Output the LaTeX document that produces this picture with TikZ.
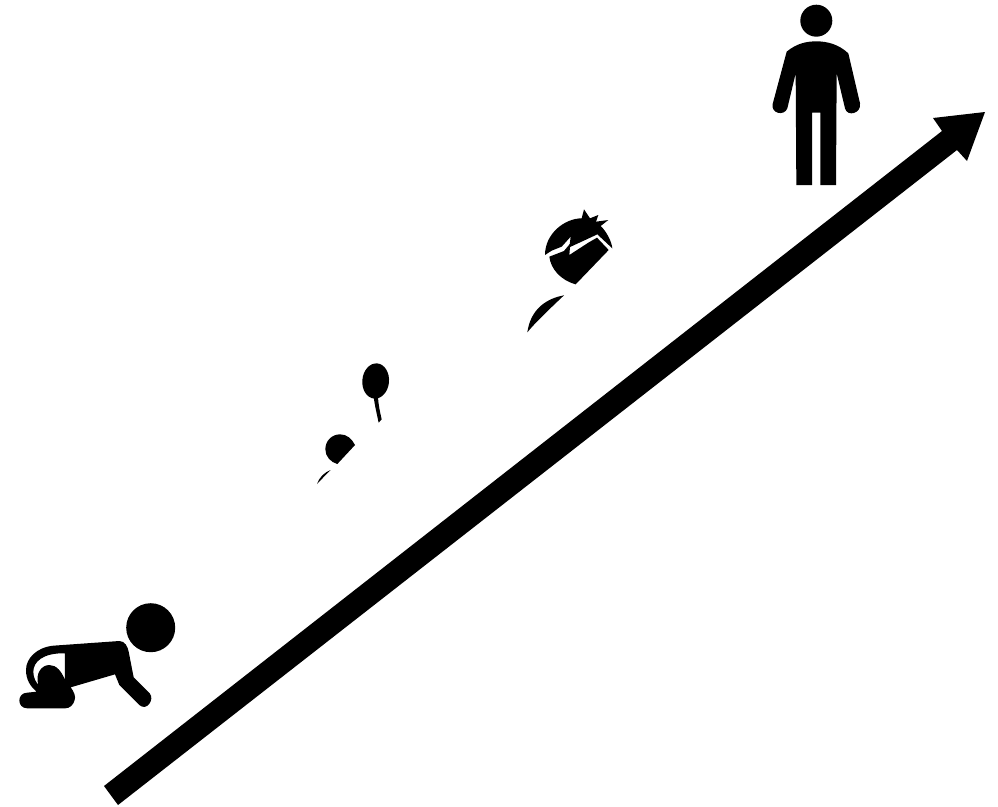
\documentclass[tikz,border=0pt]{standalone}
\usepackage{tikz}
\usetikzlibrary{shapes.geometric}
\tikzset{
	blob/.style={
		circle,
		fill=black,
		inner sep=0pt
	},
	figpart/.style={fill=black, even odd rule},
	zoomed/.style={shift={#1}, scale=1/3}
}

\begin{document}
\begin{tikzpicture}[x=1pt, y=-1pt]
		\useasboundingbox (0,0) rectangle (998,806);
		% arrow
		\fill[figpart] (104,786) -- (942,131) -- (933,118) -- (985,112) -- (967,161) -- (957,150) -- (118,805) -- cycle;
		% baby
		\node[blob, minimum size=49pt] (babyhead) at (150.7,627.7) {};
		\begin{scope}[zoomed={(0,590)}]
			\fill[figpart] (358,153) .. controls (375,153) and (383,170) .. (386,185) -- (401,262) -- (449,310)
				.. controls (465,328) and (440,365) .. (418,345) -- (358,285) -- (345,253) -- (212,292)
				.. controls (222,305) and (228,320) .. (224,330) .. controls (220,345) and (210,355) .. (195,355) -- (82,355)
				.. controls (50,355) and (50,308) .. (82,308) -- (110,305)
				.. controls (92,290) and (78,270) .. (78,240) .. controls (78,205) and (110,172) .. (160,167) -- cycle
				(195,190) .. controls (130,188) and (100,215) .. (100,245) .. controls (100,265) and (108,275) .. (115,285)
				.. controls (105,250) and (125,225) .. (148,225) .. controls (170,225) and (185,245) .. (195,270) -- cycle;
		\end{scope}
		% balloon and small fruit
		\begin{scope}[zoomed={(305,355)}]
			\node[blob, ellipse, minimum width=26.7pt, minimum height=35.3pt, rotate=-5] (balloon) at (212,78) {};
			\fill[figpart] (206,125) -- (219,125) .. controls (220,150) and (226,175) .. (230,193) -- (221,203) .. controls (216,180) and (209,150) .. (206,125) -- cycle;
			\fill[figpart] (150,270) .. controls (140,250) and (125,238) .. (105,238) .. controls (80,238) and (61,258) .. (61,283)
				.. controls (61,305) and (78,322) .. (97,327) -- cycle;
			\fill[figpart] (77,345) .. controls (58,352) and (42,368) .. (36,387) .. controls (50,372) and (64,358) .. (77,345) -- cycle;
		\end{scope}
		% strawberry
		\begin{scope}[zoomed={(510,200)}]
			\fill[figpart] (105,165) .. controls (105,100) and (165,55) .. (215,55) -- (222,28) -- (240,55) -- (265,45) -- (258,65) -- (295,60) -- (272,78)
				.. controls (290,95) and (305,125) .. (307,145) -- (262,103) -- (230,118) -- (178,142) -- (182,110) -- (155,140) -- (125,152) -- cycle;
			\fill[figpart] (118,170) -- (162,153) -- (181,130) -- (178,165) -- (235,128) -- (261,113) -- (296,150) -- (197,253)
				.. controls (150,240) and (122,205) .. (118,170) -- cycle;
			\fill[figpart] (162,286) .. controls (112,295) and (62,325) .. (52,397) .. controls (72,372) and (110,335) .. (162,286) -- cycle;
		\end{scope}
		% man
		\node[blob, minimum size=32pt] (manhead) at (816.3,20.7) {};
		\begin{scope}[zoomed={(760,0)}]
			\fill[figpart] (80,155) .. controls (110,130) and (140,124) .. (169,124) .. controls (200,124) and (235,132) .. (265,160)
				-- (300,310) .. controls (305,340) and (262,352) .. (255,325) -- (230,220) -- (228,555) -- (181,555) -- (181,338) -- (156,338)
				-- (156,555) -- (109,555) -- (107,220) -- (82,325) .. controls (72,350) and (32,340) .. (38,312) -- cycle;
		\end{scope}
	\end{tikzpicture}
\end{document}
